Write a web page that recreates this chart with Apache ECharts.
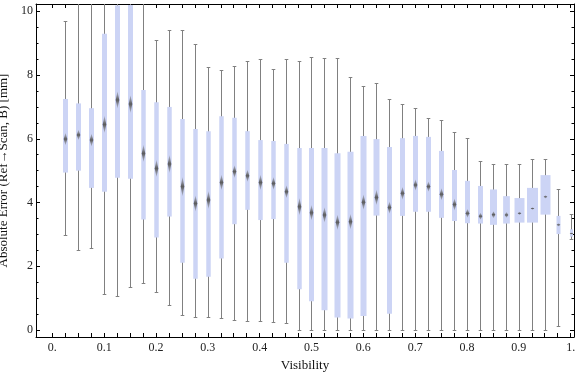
<!DOCTYPE html>
<html>
<head>
<meta charset="utf-8">
<script src="https://cdn.jsdelivr.net/npm/echarts@6/dist/echarts.min.js"></script>
<style>
  html, body { margin: 0; padding: 0; background: #fff; }
  #chart { width: 576px; height: 377px; }
</style>
</head>
<body>
<div id="chart"></div>
<script>
// visibility bins (x) and the per-bin error statistics in mm
const visibility = [
  0.025, 0.05, 0.075, 0.1, 0.125, 0.15, 0.175, 0.2, 0.225, 0.25,
  0.275, 0.3, 0.325, 0.35, 0.375, 0.4, 0.425, 0.45, 0.475, 0.5,
  0.525, 0.55, 0.575, 0.6, 0.625, 0.65, 0.675, 0.7, 0.725, 0.75,
  0.775, 0.8, 0.825, 0.85, 0.875, 0.9, 0.925, 0.95, 0.975, 1.0
];
const whiskerLow = [
  2.97, 2.52, 2.56, 1.12, 1.06, 1.34, 1.47, 1.18, 0.78, 0.48,
  0.40, 0.41, 0.37, 0.30, 0.28, 0.28, 0.24, 0.21, 0.0, 0.0,
  0.0, 0.0, 0.0, 0.0, 0.0, 0.0, 0.0, 0.0, 0.0, 0.0,
  0.0, 0.0, 0.0, 0.0, 0.0, 0.0, 0.0, 0.0, 0.12, 2.85
];
const quartileLow = [
  4.94, 5.00, 4.46, 4.34, 4.78, 4.75, 3.47, 2.90, 3.56, 2.11,
  1.61, 1.67, 2.24, 3.32, 3.77, 3.45, 3.48, 2.11, 1.28, 0.90,
  0.62, 0.39, 0.36, 0.44, 3.59, 0.51, 3.58, 3.71, 3.71, 3.52,
  3.42, 3.35, 3.34, 3.30, 3.34, 3.37, 3.37, 3.62, 3.01, 2.93
];
const medians = [
  5.99, 6.12, 5.96, 6.45, 7.22, 7.09, 5.54, 5.07, 5.21, 4.50,
  3.97, 4.08, 4.63, 4.97, 4.84, 4.63, 4.60, 4.34, 3.87, 3.68,
  3.61, 3.38, 3.40, 4.01, 4.16, 3.84, 4.29, 4.55, 4.50, 4.26,
  3.94, 3.66, 3.57, 3.62, 3.61, 3.66, 3.81, 4.18, 3.30, 3.03
];
const quartileHigh = [
  7.25, 7.11, 6.96, 9.30, 10.18, 10.20, 7.53, 7.15, 7.00, 6.62,
  6.31, 6.24, 6.71, 6.66, 6.24, 5.96, 5.93, 5.84, 5.71, 5.71,
  5.71, 5.55, 5.59, 6.09, 5.99, 5.74, 6.02, 6.09, 6.06, 5.62,
  5.02, 4.68, 4.52, 4.41, 4.20, 4.14, 4.46, 4.86, 3.58, 3.16
];
const whiskerHigh = [
  9.69, 10.9, 11.2, 11.6, 11.9, 11.7, 11.0, 9.09, 9.40, 9.40,
  8.96, 8.24, 8.15, 8.30, 8.43, 8.49, 8.18, 8.49, 8.43, 8.56,
  8.53, 8.53, 7.93, 7.65, 7.74, 7.24, 7.08, 6.96, 6.64, 6.58,
  6.20, 6.02, 5.31, 5.20, 5.20, 5.20, 5.36, 5.36, 4.43, 3.64
];
// half spread of the median marker (mm)
const medianSpread = [
  0.19, 0.16, 0.20, 0.27, 0.27, 0.28, 0.27, 0.27, 0.28, 0.30,
  0.25, 0.28, 0.24, 0.20, 0.19, 0.24, 0.20, 0.20, 0.27, 0.24,
  0.24, 0.24, 0.24, 0.24, 0.24, 0.19, 0.20, 0.17, 0.16, 0.19,
  0.19, 0.14, 0.11, 0.11, 0.09, 0.05, 0.04, 0.05, 0.05, 0.03
];
// relative box weight per bin
const boxWeight = [
  1, 1, 1, 1, 1, 1, 0.9, 0.9, 0.9, 0.9,
  0.9, 0.9, 0.9, 0.9, 0.9, 0.9, 0.9, 0.9, 0.9, 1,
  1.2, 1.2, 1.2, 1.2, 1.2, 1, 1, 1, 1, 1,
  1, 1, 1, 1.4, 1.35, 2, 2.2, 2, 0.8, 0.6
];

const xLabelValues = [0, 0.1, 0.2, 0.3, 0.4, 0.5, 0.6, 0.7, 0.8, 0.9, 1];
const yLabelValues = [0, 2, 4, 6, 8, 10];

const xTickValues = [0];
for (let i = 1; i <= 40; i++) xTickValues.push(+(i * 0.025).toFixed(3));
const yMinorValues = [];
for (let i = 1; i < 21; i++) if (i % 4 !== 0) yMinorValues.push(i * 0.5);

const BOX_W = 5;
const CAP = 1.8;
const DIAMOND = 1.8;
const FONT = '"Liberation Serif", "DejaVu Serif", serif';

const boxData = visibility.map((v, i) => [
  v, whiskerLow[i], quartileLow[i], medians[i], quartileHigh[i], whiskerHigh[i],
  medianSpread[i], boxWeight[i]
]);

function renderBox(params, api) {
  const v = api.value(0);
  const cx = Math.round(api.coord([v, 0])[0]) + 0.5;
  const y = (val) => api.coord([v, val])[1];
  const yMin = Math.round(y(api.value(1))) + 0.5;
  const yMax = Math.round(y(api.value(5))) + 0.5;
  const yQ1 = y(api.value(2));
  const yQ3 = y(api.value(4));
  const med = api.value(3);
  const yMed = y(med);
  const yHi = y(med + api.value(6));
  const yLo = y(med - api.value(6));
  const w = BOX_W * api.value(7);
  const ls = { stroke: '#808080', lineWidth: 1, fill: null };
  return {
    type: 'group',
    children: [
      { type: 'line', shape: { x1: cx, y1: yMin, x2: cx, y2: yMax }, style: ls },
      { type: 'line', shape: { x1: cx - CAP, y1: yMin, x2: cx + CAP, y2: yMin }, style: ls },
      { type: 'line', shape: { x1: cx - CAP, y1: yMax, x2: cx + CAP, y2: yMax }, style: ls },
      {
        type: 'rect',
        shape: { x: cx - w / 2, y: yQ3, width: w, height: yQ1 - yQ3 },
        style: { fill: '#ccd4f5' }
      },
      {
        type: 'polygon',
        shape: { points: [[cx, yHi], [cx + DIAMOND, yMed], [cx, yLo], [cx - DIAMOND, yMed]] },
        style: {
          fill: new echarts.graphic.LinearGradient(0, 0, 0, 1, [
            { offset: 0, color: 'rgba(120,120,120,0.35)' },
            { offset: 0.5, color: 'rgba(85,85,85,0.95)' },
            { offset: 1, color: 'rgba(120,120,120,0.35)' }
          ])
        }
      }
    ]
  };
}

const X_MIN = -0.0315, X_MAX = 1.0065;
const Y_MIN = -0.22, Y_MAX = 10.23;
const axisLine = { show: true, onZero: false, lineStyle: { color: '#000', width: 1 } };

function xFmt(v) {
  if (Math.abs(v - Math.round(v)) < 1e-9) return Math.round(v) + '.';
  return v.toFixed(1);
}

const chart = echarts.init(document.getElementById('chart'), null, { renderer: 'canvas' });
chart.setOption({
  animation: false,
  grid: { left: 36, right: 2, top: 4, bottom: 40, containLabel: false, outerBoundsMode: 'none' },
  xAxis: [
    {
      type: 'value', position: 'bottom', min: X_MIN, max: X_MAX,
      name: 'Visibility', nameLocation: 'middle', nameGap: 20,
      nameTextStyle: { fontFamily: FONT, fontSize: 13, color: '#111' },
      axisLine: axisLine,
      axisTick: { inside: true, length: 4, customValues: xTickValues, lineStyle: { color: '#000' } },
      axisLabel: {
        customValues: xLabelValues, formatter: xFmt, margin: 5,
        fontFamily: FONT, fontSize: 12, color: '#222'
      },
      splitLine: { show: false }
    },
    {
      type: 'value', position: 'top', min: X_MIN, max: X_MAX,
      axisLine: axisLine,
      axisTick: { inside: true, length: 4, customValues: xTickValues, lineStyle: { color: '#000' } },
      axisLabel: { show: false },
      splitLine: { show: false }
    }
  ],
  yAxis: [
    {
      type: 'value', position: 'left', min: Y_MIN, max: Y_MAX,
      name: 'Absolute Error (Ref\u2192Scan, B) [mm]', nameLocation: 'middle', nameGap: 21,
      nameTextStyle: { fontFamily: FONT, fontSize: 13, color: '#111' },
      axisLine: axisLine,
      axisTick: { inside: true, length: 4, customValues: yLabelValues, lineStyle: { color: '#000' } },
      axisLabel: {
        customValues: yLabelValues, margin: 3,
        fontFamily: FONT, fontSize: 12, color: '#222'
      },
      splitLine: { show: false }
    },
    {
      type: 'value', position: 'left', min: Y_MIN, max: Y_MAX,
      axisLine: { show: false, onZero: false },
      axisTick: { inside: true, length: 2.5, customValues: yMinorValues, lineStyle: { color: '#000' } },
      axisLabel: { show: false },
      splitLine: { show: false }
    },
    {
      type: 'value', position: 'right', min: Y_MIN, max: Y_MAX,
      axisLine: axisLine,
      axisTick: { inside: true, length: 4, customValues: yLabelValues, lineStyle: { color: '#000' } },
      axisLabel: { show: false },
      splitLine: { show: false }
    },
    {
      type: 'value', position: 'right', min: Y_MIN, max: Y_MAX,
      axisLine: { show: false, onZero: false },
      axisTick: { inside: true, length: 2.5, customValues: yMinorValues, lineStyle: { color: '#000' } },
      axisLabel: { show: false },
      splitLine: { show: false }
    }
  ],
  series: [
    {
      type: 'custom',
      xAxisIndex: 0,
      yAxisIndex: 0,
      clip: true,
      renderItem: renderBox,
      encode: { x: 0, y: [1, 2, 3, 4, 5] },
      data: boxData
    }
  ]
});
</script>
</body>
</html>
